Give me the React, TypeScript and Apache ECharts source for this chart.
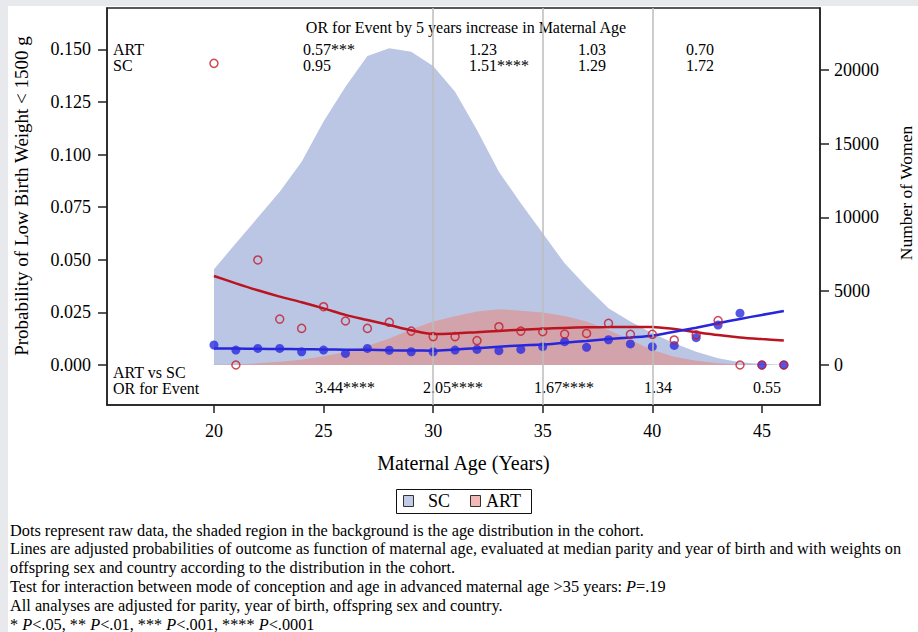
import React, { useEffect, useRef } from 'react';
import * as echarts from 'echarts';

const ages = [20, 21, 22, 23, 24, 25, 26, 27, 28, 29, 30, 31, 32, 33, 34, 35, 36, 37, 38, 39, 40, 41, 42, 43, 44, 45, 46];
const scWomen = [6490, 8250, 9990, 11750, 13780, 16500, 18870, 20950, 21470, 21240, 20270, 18530, 15930, 13100, 10960, 8930, 6890, 5310, 3840, 2940, 2150, 1470, 900, 450, 180, 60, 20];
const artWomen = [20, 40, 110, 225, 360, 590, 880, 1280, 1800, 2400, 2950, 3300, 3620, 3780, 3680, 3560, 3320, 2940, 2370, 1690, 1020, 560, 290, 115, 40, 10, 0];
const scRaw = [0.0095, 0.0071, 0.0079, 0.0079, 0.0063, 0.0071, 0.0055, 0.0079, 0.0070, 0.0063, 0.0063, 0.0071, 0.0074, 0.0068, 0.0074, 0.0087, 0.0111, 0.0084, 0.0120, 0.0100, 0.0087, 0.0093, 0.0130, 0.0190, 0.0246, 0, 0];
const artRaw = [0.1433, 0, 0.0499, 0.0218, 0.0174, 0.0277, 0.0209, 0.0174, 0.0203, 0.0161, 0.0135, 0.0135, 0.0116, 0.0182, 0.0161, 0.0158, 0.0147, 0.0150, 0.0198, 0.0146, 0.0146, 0.0119, 0.0143, 0.0211, 0, 0, 0];
const scFit = [0.0079, 0.0078, 0.0077, 0.0076, 0.0075, 0.0074, 0.0073, 0.0072, 0.0070, 0.0069, 0.0068, 0.0074, 0.0080, 0.0087, 0.0093, 0.0097, 0.0106, 0.0114, 0.0123, 0.0131, 0.0139, 0.0158, 0.0177, 0.0198, 0.0219, 0.0238, 0.0257];
const artFit = [0.0423, 0.0388, 0.0355, 0.0325, 0.0298, 0.0269, 0.0238, 0.0214, 0.0190, 0.0165, 0.0147, 0.0150, 0.0156, 0.0162, 0.0167, 0.0172, 0.0176, 0.0179, 0.0180, 0.0181, 0.0181, 0.0171, 0.0156, 0.0142, 0.0131, 0.0123, 0.0116];

const leftTicks = [0, 0.025, 0.05, 0.075, 0.1, 0.125, 0.15];
const rightTicks = [0, 5000, 10000, 15000, 20000];
const xTicks = [20, 25, 30, 35, 40, 45];
const refAges = [30, 35, 40];

const orHeader = 'OR for Event by 5 years increase in Maternal Age';
const orArt = ['0.57***', '1.23', '1.03', '0.70'];
const orSc = ['0.95', '1.51****', '1.29', '1.72'];
const orArtVsSc = ['3.44****', '2.05****', '1.67****', '1.34', '0.55'];
const footnotes = [
  'Dots represent raw data, the shaded region in the background is the age distribution in the cohort.',
  'Lines are adjusted probabilities of outcome as function of maternal age, evaluated at median parity and year of birth and with weights on',
  'offspring sex and country according to the distribution in the cohort.',
];

const FONT = '"Liberation Serif", "Times New Roman", serif';

export default function App() {
  const ref = useRef<HTMLDivElement>(null);
  useEffect(() => {
    if (!ref.current) return;
    const chart = echarts.init(ref.current, undefined, { renderer: 'svg' });
    const pair = (vals: number[]) => ages.map((a, i) => [a, vals[i]]);
    const txt = (text: string, x: number, y: number, size: number, align = 'left', extra: any = {}) => ({
      type: 'text',
      x,
      y,
      silent: true,
      ...extra,
      style: { text, fill: '#000', font: `${size}px ${FONT}`, textAlign: align, textVerticalAlign: 'middle' },
    });
    const orCols = [303, 469, 578, 686];
    const artVsScCols = [315, 423, 534, 644, 753];
    const nfont = `16.3px ${FONT}`;
    const ifont = `italic 16.3px ${FONT}`;
    const richText = (text: string, x: number, y: number) => ({
      type: 'text',
      x,
      y,
      silent: true,
      style: {
        text,
        fill: '#000',
        font: nfont,
        textAlign: 'left',
        textVerticalAlign: 'middle',
        rich: {
          n: { font: nfont, fill: '#000' },
          i: { font: ifont, fill: '#000' },
        },
      },
    });
    const option: any = {
      animation: false,
      backgroundColor: 'transparent',
      textStyle: { fontFamily: FONT },
      grid: { left: 107, top: 8, width: 713, height: 397, show: true, borderColor: '#222', borderWidth: 1.5, backgroundColor: 'transparent' },
      xAxis: {
        type: 'value',
        min: 15.12,
        max: 47.65,
        splitLine: { show: false },
        axisLine: { onZero: false, lineStyle: { color: '#222', width: 1.5 } },
        axisTick: { customValues: xTicks, length: 8, lineStyle: { color: '#222', width: 1.5 } },
        axisLabel: { customValues: xTicks, margin: 17, fontSize: 18, color: '#000', fontFamily: FONT },
      },
      yAxis: [
        {
          type: 'value',
          min: -0.019,
          max: 0.1696,
          splitLine: { show: false },
          axisLine: { show: true, onZero: false, lineStyle: { color: '#222', width: 1.5 } },
          axisTick: { show: true, customValues: leftTicks, length: 9, lineStyle: { color: '#222', width: 1.5 } },
          axisLabel: { customValues: leftTicks, margin: 16, fontSize: 18, color: '#000', fontFamily: FONT, formatter: (v: number) => v.toFixed(3) },
        },
        {
          type: 'value',
          position: 'right',
          min: -2712,
          max: 24200,
          splitLine: { show: false },
          axisLine: { show: true, onZero: false, lineStyle: { color: '#222', width: 1.5 } },
          axisTick: { show: true, customValues: rightTicks, length: 9, lineStyle: { color: '#222', width: 1.5 } },
          axisLabel: { customValues: rightTicks, margin: 14, fontSize: 18, color: '#000', fontFamily: FONT, formatter: (v: number) => String(v) },
        },
      ],
      series: [
        {
          name: 'SC',
          type: 'line',
          yAxisIndex: 1,
          data: pair(scWomen),
          symbol: 'none',
          lineStyle: { width: 0 },
          areaStyle: { color: '#bac6e3', opacity: 1 },
          silent: true,
          z: 1,
        },
        {
          name: 'ART',
          type: 'line',
          yAxisIndex: 1,
          data: pair(artWomen),
          symbol: 'none',
          lineStyle: { width: 0 },
          areaStyle: { color: '#d2a3ab', opacity: 1 },
          silent: true,
          z: 1,
          markLine: {
            silent: true,
            symbol: ['none', 'none'],
            label: { show: false },
            lineStyle: { color: '#bdbdbd', width: 1.5, type: 'solid' },
            data: refAges.map((a) => ({ xAxis: a })),
          },
        },
        {
          name: 'ART fit',
          type: 'line',
          data: pair(artFit),
          symbol: 'none',
          smooth: 0.3,
          lineStyle: { color: '#bb1421', width: 2.5 },
          z: 3,
        },
        {
          name: 'SC fit',
          type: 'line',
          data: pair(scFit),
          symbol: 'none',
          smooth: 0.3,
          lineStyle: { color: '#2626dc', width: 2.5 },
          z: 3,
        },
        {
          name: 'SC raw',
          type: 'scatter',
          data: pair(scRaw),
          symbol: 'circle',
          symbolSize: 9,
          itemStyle: { color: '#2b2be0' },
          z: 4,
        },
        {
          name: 'ART raw',
          type: 'scatter',
          data: pair(artRaw),
          symbol: 'circle',
          symbolSize: 8,
          itemStyle: { color: 'rgba(0,0,0,0)', borderColor: '#c41a2c', borderWidth: 1.5 },
          z: 5,
        },
      ],
      graphic: [
        txt(orHeader, 466, 27, 16, 'center'),
        txt('ART', 113, 49, 16),
        txt('SC', 113, 65, 16),
        ...orArt.map((t, i) => txt(t, orCols[i], 49, 16)),
        ...orSc.map((t, i) => txt(t, orCols[i], 65, 16)),
        txt('ART vs SC', 113, 372, 16),
        txt('OR for Event', 113, 388, 16),
        ...orArtVsSc.map((t, i) => txt(t, artVsScCols[i], 387, 16)),
        txt('Maternal Age (Years)', 463.5, 463, 20, 'center'),
        txt('Probability of Low Birth Weight < 1500 g', 21, 196, 19, 'center', { rotation: Math.PI / 2 }),
        txt('Number of Women', 906, 193, 17.5, 'center', { rotation: Math.PI / 2 }),
        {
          type: 'rect',
          silent: true,
          shape: { x: 396.5, y: 489.5, width: 135, height: 24 },
          style: { fill: '#fff', stroke: '#111', lineWidth: 1 },
        },
        {
          type: 'rect',
          silent: true,
          shape: { x: 403.5, y: 495.5, width: 10, height: 11 },
          style: { fill: '#c1cbe8', stroke: '#333', lineWidth: 1 },
        },
        txt('SC', 428, 501, 18),
        {
          type: 'rect',
          silent: true,
          shape: { x: 470.5, y: 495.5, width: 10, height: 11 },
          style: { fill: '#f0b8b6', stroke: '#333', lineWidth: 1 },
        },
        txt('ART', 486, 501, 18),
        ...footnotes.map((t, i) => richText(`{n|${t}}`, 10, 530 + i * 18.8)),
        richText('{n|Test for interaction between mode of conception and age in advanced maternal age >35 years: }{i|P}{n|=.19}', 10, 586),
        richText('{n|All analyses are adjusted for parity, year of birth, offspring sex and country.}', 10, 605),
        richText('{n|* }{i|P}{n|<.05, ** }{i|P}{n|<.01, *** }{i|P}{n|<.001, **** }{i|P}{n|<.0001}', 10, 624),
      ],
    };
    chart.setOption(option);
    return () => chart.dispose();
  }, []);
  return (
    <div style={{ position: 'fixed', left: 0, top: 0, width: 918, height: 632, background: '#e8e9ec', overflow: 'hidden' }}>
      <div style={{ position: 'absolute', left: 8, top: 6, width: 910, height: 626, background: '#fff' }} />
      <div ref={ref} style={{ position: 'absolute', left: 0, top: 0, width: 918, height: 632 }} />
    </div>
  );
}
